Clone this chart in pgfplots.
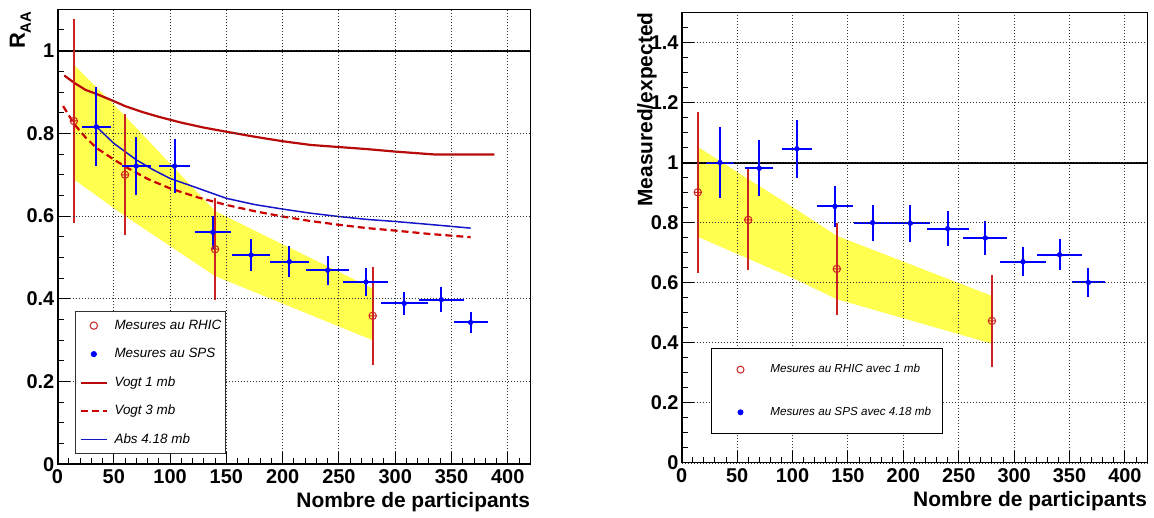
\documentclass[border=0pt]{standalone}
\usepackage{fontspec}
\setmainfont{Liberation Sans}
\usepackage{pgfplots}
\pgfplotsset{compat=1.18}

\definecolor{rhicred}{RGB}{204,34,34}
\definecolor{vogtred}{RGB}{185,10,10}
\definecolor{dashred}{RGB}{204,0,0}
\definecolor{spsblue}{RGB}{0,0,255}
\definecolor{absblue}{RGB}{20,20,200}
\definecolor{bandyellow}{RGB}{255,255,80}

\pgfplotsset{
  markleg/.style={legend image code/.code={%
      \path (0bp,0bp) (#1,0bp);
      \draw[##1, only marks] plot coordinates {(0.5*#1,0bp)};}},
  linleg/.style={legend image code/.code={%
      \draw[##1] (0bp,0bp) -- (26bp,0bp);}},
  rootstyle/.style={
    scale only axis, anchor=south west,
    xmin=0, xmax=420, ymin=0,
    xtick={0,50,...,400},
    minor xtick={10,20,...,410},
    tick align=inside, tick pos=left,
    major tick length=12bp, minor tick length=6bp,
    every tick/.style={black, line width=1bp},
    grid=major,
    major grid style={black!80, line width=0.9bp, dash pattern=on 1bp off 2bp},
    axis line style={line width=1bp},
    axis on top,
    /pgf/number format/assume math mode=true,
    tick label style={font=\bfseries\fontsize{20}{20}\selectfont},
    xticklabel style={inner ysep=5bp},
    yticklabel style={inner xsep=3bp},
    xlabel style={at={(rel axis cs:1,0)}, anchor=base east, yshift=-43bp,
      inner sep=0pt, font=\bfseries\fontsize{21}{21}\selectfont},
    ylabel style={anchor=base east, inner sep=0pt},
    legend cell align=left,
  },
}

\begin{document}
\begin{tikzpicture}

% ---------------- left panel: R_AA ----------------
\begin{axis}[rootstyle,
  at={(57.5bp,53.7bp)}, width=472.8bp, height=455bp,
  ymax=1.1,
  ytick={0,0.2,0.4,0.6,0.8,1},
  minor ytick={0.05,0.1,...,1.1},
  xlabel={Nombre de participants},
  ylabel={\bfseries\fontsize{22}{22}\selectfont R\raisebox{-6bp}{\fontsize{15}{15}\selectfont AA}},
  ylabel style={at={([shift={(-32.5bp,-2bp)}]rel axis cs:0,1)}},
  legend style={at={(0.0372,0.337)}, anchor=north west, draw=black!80,
    line width=1.3bp, fill=white,
    font=\itshape\fontsize{13.5}{13.5}\selectfont,
    inner xsep=4bp, inner ysep=7.5bp, row sep=15.5bp, column sep=6.6bp,
    nodes={inner sep=0pt, text height=10bp, text depth=3bp}},
]
% band
\addplot[forget plot, fill=bandyellow, draw=none] coordinates {
  (15,0.965) (60,0.842) (140,0.612) (280,0.425)
  (280,0.300) (140,0.455) (60,0.600) (15,0.688)} -- cycle;
\addplot[forget plot, black, line width=2bp] coordinates {(0,1) (420,1)};

% Vogt 1 mb
\addplot[forget plot, vogtred, line width=2.2bp] coordinates {
  (6,0.940) (15,0.922) (25,0.905) (35,0.895) (50,0.878) (60,0.866) (75,0.852)
  (90,0.840) (110,0.826) (130,0.814) (150,0.804) (175,0.792) (200,0.781)
  (225,0.772) (250,0.767) (275,0.762) (300,0.756) (320,0.752) (335,0.749)
  (350,0.749) (370,0.749) (388,0.749)};
% Vogt 3 mb
\addplot[forget plot, dashred, line width=2.2bp, dash pattern=on 7bp off 4bp] coordinates {
  (5,0.866) (15,0.822) (25,0.790) (35,0.764) (50,0.737) (60,0.720) (80,0.690)
  (100,0.667) (125,0.645) (150,0.627) (175,0.612) (200,0.599) (225,0.588)
  (250,0.579) (275,0.571) (300,0.565) (330,0.557) (367,0.549)};
% Abs 4.18 mb
\addplot[forget plot, absblue, line width=1.5bp] coordinates {
  (35,0.815) (50,0.776) (70,0.736) (85,0.712) (100,0.691) (118,0.674)
  (150,0.643) (175,0.628) (200,0.617) (225,0.607) (250,0.599) (275,0.592)
  (300,0.587) (330,0.580) (367,0.571)};

% RHIC
\addplot[forget plot, only marks, mark=oplus, mark size=3.7bp, rhicred,
  mark options={line width=1bp},
  error bars/.cd, y dir=both, y explicit, error mark=none,
  error bar style={line width=1.8bp, rhicred}]
  coordinates {
  (14.5,0.830) +- (0,0.247)
  (60,0.700) +- (0,0.146)
  (140,0.520) +- (0,0.124)
  (280,0.359) +- (0,0.118)};
% SPS
\addplot[forget plot, only marks, mark=*, mark size=2.4bp, spsblue,
  error bars/.cd, x dir=both, x explicit, y dir=both, y explicit, error mark=none,
  error bar style={line width=2bp, spsblue}]
  coordinates {
  (34.5,0.816) +- (13,0.096)
  (70,0.721) +- (13,0.070)
  (104,0.721) +- (14,0.066)
  (138,0.561) +- (16,0.040)
  (172,0.506) +- (17,0.038)
  (206,0.490) +- (17.5,0.038)
  (240,0.469) +- (19,0.035)
  (274,0.441) +- (20,0.034)
  (308,0.389) +- (21,0.027)
  (341,0.398) +- (20,0.031)
  (367,0.343) +- (15,0.026)};

\addlegendimage{rhicred, mark=o, mark size=3.7bp, mark options={line width=1bp}, markleg=26bp}
\addlegendentry{Mesures au RHIC}
\addlegendimage{spsblue, mark=*, mark size=2.4bp, markleg=26bp}
\addlegendentry{Mesures au SPS}
\addlegendimage{vogtred, line width=2.2bp, linleg}
\addlegendentry{Vogt 1 mb}
\addlegendimage{dashred, line width=2.2bp, dash pattern=on 7bp off 4bp, linleg}
\addlegendentry{Vogt 3 mb}
\addlegendimage{absblue, line width=1.5bp, linleg}
\addlegendentry{Abs 4.18 mb}

\draw[line width=2bp] (rel axis cs:0,1) -- (rel axis cs:0,0) -- (rel axis cs:1,0);
\end{axis}

% ---------------- right panel: measured/expected ----------------
\begin{axis}[rootstyle,
  at={(681.7bp,55bp)}, width=465.4bp, height=450.7bp,
  ymax=1.5,
  ytick={0,0.2,0.4,0.6,0.8,1,1.2,1.4},
  minor ytick={0.05,0.1,...,1.5},
  xlabel={Nombre de participants},
  ylabel={\bfseries\fontsize{21}{21}\selectfont Measured/expected},
  ylabel style={at={([shift={(-29.4bp,0bp)}]rel axis cs:0,1)}},
  legend style={at={(0.0621,0.2552)}, anchor=north west, draw=black,
    line width=1.3bp, fill=white,
    font=\itshape\fontsize{11.7}{11.7}\selectfont,
    inner xsep=11.7bp, inner ysep=15.5bp, row sep=31.7bp, column sep=12.3bp,
    nodes={inner sep=0pt, text height=8.5bp, text depth=2.5bp}},
]
\addplot[forget plot, fill=bandyellow, draw=none] coordinates {
  (15,1.051) (60,0.945) (100,0.852) (140,0.756) (280,0.556)
  (280,0.397) (140,0.545) (100,0.616) (40,0.712) (15,0.752)} -- cycle;
\addplot[forget plot, black, line width=2bp] coordinates {(0,1) (420,1)};

\addplot[forget plot, only marks, mark=oplus, mark size=3.7bp, rhicred,
  mark options={line width=1bp},
  error bars/.cd, y dir=both, y explicit, error mark=none,
  error bar style={line width=1.8bp, rhicred}]
  coordinates {
  (14.5,0.901) +- (0,0.268)
  (60,0.809) +- (0,0.168)
  (140,0.646) +- (0,0.152)
  (280,0.473) +- (0,0.153)};
\addplot[forget plot, only marks, mark=*, mark size=2.4bp, spsblue,
  error bars/.cd, x dir=both, x explicit, y dir=both, y explicit, error mark=none,
  error bar style={line width=2bp, spsblue}]
  coordinates {
  (34.5,1.000) +- (13,0.118)
  (70,0.981) +- (12.5,0.093)
  (104,1.046) +- (13.5,0.096)
  (138.3,0.854) +- (16,0.067)
  (172.3,0.800) +- (17,0.060)
  (206.3,0.798) +- (17.5,0.062)
  (240,0.780) +- (19,0.058)
  (274,0.749) +- (20,0.058)
  (308,0.670) +- (21,0.048)
  (341,0.693) +- (20,0.052)
  (367,0.601) +- (15,0.048)};

\addlegendimage{rhicred, mark=o, mark size=3.5bp, mark options={line width=1bp}, markleg=33.8bp}
\addlegendentry{Mesures au RHIC avec 1 mb}
\addlegendimage{spsblue, mark=*, mark size=2.3bp, markleg=33.8bp}
\addlegendentry{Mesures au SPS avec 4.18 mb}

\draw[line width=2bp] (rel axis cs:0,1) -- (rel axis cs:0,0) -- (rel axis cs:1,0);
\end{axis}

\pgfresetboundingbox
\path[use as bounding box] (0bp,0bp) rectangle (1154bp,518bp);
\end{tikzpicture}
\end{document}
